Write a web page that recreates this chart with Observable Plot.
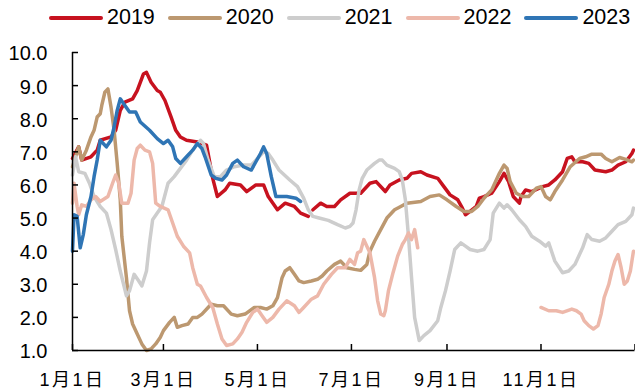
<!DOCTYPE html>
<html>
<head>
<meta charset="utf-8">
<script src="https://cdn.jsdelivr.net/npm/d3@7"></script>
<script src="https://cdn.jsdelivr.net/npm/@observablehq/plot@0.6"></script>
<style>
  html, body { margin: 0; padding: 0; background: #fff; }
  body { width: 635px; height: 392px; overflow: hidden; font-family: "Liberation Sans", Arial, "Noto Sans CJK SC", sans-serif; }
  #legend { height: 34px; box-sizing: border-box; padding: 2px 0 0 49px; display: flex; align-items: center; gap: 13px; }
  .item { display: flex; align-items: center; font-size: 21.5px; color: #000; line-height: 1; }
  .swatch { width: 54px; height: 4px; border-radius: 2px; margin-right: 4px; }
  #chart svg { display: block; }
  #chart g[aria-label="x-axis tick label"] text { letter-spacing: 2.5px; }
</style>
</head>
<body>
<div id="legend"></div>
<div id="chart"></div>
<script>
// Series, one per year: [month-day, value]; null marks a break in the line
const years = ["2019", "2020", "2021", "2022", "2023"];
const colors = ["#C7121F", "#BC9870", "#CDCDCD", "#EDB8AA", "#2F75B5"];

const s2019 = [
  ["01-01",6.8],["01-05",7.15],["01-07",6.75],["01-13",6.85],["01-17",7.05],["01-19",7.35],["01-26",7.45],["01-29",7.65],
  ["02-01",8.25],["02-04",8.5],["02-09",8.6],["02-12",8.85],["02-16",9.35],["02-18",9.4],["02-21",9.1],["02-25",8.85],["02-27",8.8],
  ["03-02",8.55],["03-06",8.05],["03-09",7.65],["03-12",7.45],["03-16",7.35],["03-23",7.3],["03-29",7.2],
  ["04-02",6.2],["04-05",5.65],["04-10",5.85],["04-13",6.05],["04-20",6.0],["04-24",5.8],["04-30",6.0],
  ["05-05",6.0],["05-08",5.65],["05-14",5.25],["05-19",5.45],["05-25",5.35],["05-29",5.15],
  ["06-03",5.05],["06-04",null],["06-06",5.25],["06-11",5.45],["06-15",5.35],["06-20",5.35],["06-24",5.55],["06-30",5.75],
  ["07-07",5.75],["07-13",6.05],["07-17",6.1],["07-23",5.8],["07-26",6.0],
  ["08-01",6.15],["08-06",6.2],["08-09",6.35],["08-15",6.4],["08-19",6.3],["08-26",6.2],["08-30",5.95],
  ["09-03",5.7],["09-08",5.55],["09-11",5.3],["09-13",5.1],["09-16",5.2],["09-20",5.35],["09-22",5.6],["09-25",5.65],["09-30",5.75],
  ["10-05",6.1],["10-08",6.35],["10-11",6.1],["10-14",5.65],["10-18",5.45],["10-19",5.65],["10-22",5.85],["10-26",5.8],
  ["11-02",5.95],["11-06",6.0],["11-10",6.15],["11-15",6.4],["11-18",6.8],["11-21",6.85],["11-23",6.7],["11-28",6.7],
  ["12-02",6.65],["12-06",6.45],["12-13",6.4],["12-17",6.45],["12-21",6.6],["12-26",6.7],["12-30",6.95],["12-31",7.05]
];

const s2020 = [
  ["01-01",6.55],["01-03",6.85],["01-05",7.15],["01-07",6.75],["01-10",7.05],["01-13",7.45],["01-15",7.65],["01-17",8.05],
  ["01-19",8.15],["01-20",8.4],["01-22",8.8],["01-24",8.9],["01-26",8.35],["01-28",7.65],["01-30",6.65],
  ["02-01",5.55],["02-02",4.45],["02-05",3.2],["02-07",2.2],["02-09",1.8],["02-12",1.5],["02-15",1.2],["02-18",1.0],
  ["02-21",1.05],["02-24",1.2],["02-27",1.4],["03-01",1.6],["03-05",1.85],["03-08",2.0],["03-10",1.7],["03-13",1.75],
  ["03-17",1.8],["03-20",2.0],["03-23",2.0],["03-26",2.1],["03-30",2.3],
  ["04-01",2.4],["04-05",2.35],["04-09",2.35],["04-14",2.1],["04-18",2.05],["04-23",2.1],["04-29",2.3],
  ["05-03",2.3],["05-07",2.25],["05-11",2.35],["05-14",2.6],["05-17",3.2],["05-19",3.4],["05-22",3.5],["05-25",3.3],
  ["05-28",3.1],["05-31",3.05],["06-05",3.1],["06-09",3.15],["06-12",3.25],["06-15",3.4],["06-20",3.6],["06-24",3.7],
  ["06-28",3.5],["07-03",3.45],["07-07",3.42],["07-11",3.6],["07-13",4.0],["07-16",4.3],["07-20",4.65],["07-24",5.0],
  ["07-29",5.25],["08-02",5.35],["08-06",5.45],["08-15",5.5],["08-21",5.65],["08-27",5.7],
  ["09-01",5.55],["09-07",5.35],["09-12",5.2],["09-17",5.2],["09-21",5.35],["09-25",5.6],["09-30",5.85],
  ["10-05",6.35],["10-08",6.6],["10-10",6.5],["10-12",6.1],["10-16",5.75],["10-20",5.65],["10-24",5.65],["10-29",5.9],
  ["11-01",5.95],["11-04",5.65],["11-07",5.55],["11-10",5.8],["11-15",6.15],["11-20",6.55],["11-26",6.8],["11-30",6.85],
  ["12-04",6.93],["12-10",6.93],["12-13",6.8],["12-17",6.7],["12-22",6.83],["12-26",6.77],["12-30",6.7],["12-31",6.75]
];

const s2021 = [
  ["01-01",6.3],["01-03",6.85],["01-05",6.4],["01-09",6.35],["01-12",6.05],["01-15",5.65],["01-19",5.35],["01-23",5.15],
  ["01-26",4.65],["01-29",4.05],["02-01",3.4],["02-05",2.65],["02-07",2.8],["02-10",3.3],["02-13",3.1],["02-15",2.95],
  ["02-18",3.4],["02-20",4.25],["02-22",4.95],["02-25",5.15],["02-28",5.35],
  ["03-04",6.05],["03-08",6.25],["03-12",6.5],["03-16",6.75],["03-20",7.05],["03-25",7.35],["03-27",7.25],["03-30",6.75],
  ["04-03",6.25],["04-07",6.25],["04-11",6.45],["04-16",6.55],["04-22",6.6],["04-27",6.6],
  ["05-01",6.8],["05-05",7.0],["05-08",6.95],["05-11",6.75],["05-15",6.45],["05-22",6.15],["05-27",5.95],["05-31",5.6],
  ["06-03",5.25],["06-06",5.05],["06-10",5.0],["06-16",4.93],["06-22",4.8],["06-27",4.7],["06-30",4.75],
  ["07-02",4.85],["07-04",5.25],["07-06",5.85],["07-08",6.2],["07-11",6.45],["07-16",6.65],["07-19",6.75],["07-21",6.75],
  ["07-24",6.6],["07-29",6.5],["08-01",6.4],["08-03",6.15],["08-05",5.55],["08-07",4.45],["08-09",3.2],["08-11",2.0],
  ["08-14",1.3],["08-17",1.45],["08-21",1.6],["08-26",1.9],["08-28",2.3],["08-31",2.8],
  ["09-03",3.4],["09-06",4.05],["09-10",4.25],["09-13",4.15],["09-16",4.05],["09-21",4.0],["09-25",4.05],["09-29",4.35],
  ["10-01",5.15],["10-05",5.45],["10-08",5.3],["10-10",5.4],["10-13",5.25],["10-18",4.95],["10-22",4.75],["10-26",4.45],
  ["10-31",4.3],["11-04",4.15],["11-06",4.25],["11-10",3.7],["11-15",3.35],["11-19",3.4],["11-23",3.6],["11-28",4.1],
  ["12-01",4.5],["12-04",4.35],["12-09",4.3],["12-13",4.4],["12-17",4.6],["12-21",4.8],["12-26",4.9],["12-30",5.1],["12-31",5.3]
];

const s2022 = [
  ["01-01",5.45],["01-02",6.05],["01-04",5.35],["01-05",5.1],["01-07",5.4],["01-10",5.35],["01-13",5.55],["01-16",5.65],
  ["01-19",5.5],["01-24",5.65],["01-27",6.05],["01-29",6.3],["01-31",6.05],
  ["02-02",5.45],["02-06",5.45],["02-08",5.75],["02-10",6.75],["02-12",7.1],["02-14",7.2],["02-17",7.05],["02-20",7.0],
  ["02-22",6.65],["02-24",5.45],["02-27",5.35],
  ["03-04",5.25],["03-07",4.85],["03-10",4.45],["03-14",4.15],["03-18",3.95],["03-20",3.5],["03-23",3.0],["03-25",2.95],["03-29",2.6],
  ["04-02",2.3],["04-05",1.8],["04-08",1.35],["04-11",1.15],["04-15",1.2],["04-18",1.35],["04-21",1.55],["04-24",1.85],["04-28",2.15],
  ["05-01",2.25],["05-04",2.05],["05-07",1.85],["05-11",2.0],["05-15",2.25],["05-20",2.5],["05-25",2.35],["05-28",2.15],["05-31",2.3],
  ["06-05",2.55],["06-09",2.65],["06-13",3.0],["06-18",3.3],["06-22",3.5],["06-27",3.5],["06-30",3.75],
  ["07-03",3.6],["07-05",3.95],["07-07",4.0],["07-09",4.35],["07-11",4.15],["07-13",3.95],["07-16",3.2],["07-18",2.5],
  ["07-20",2.1],["07-22",2.05],["07-23",2.2],["07-25",2.8],["07-28",3.35],["07-31",3.85],
  ["08-03",4.2],["08-05",4.35],["08-07",4.55],["08-09",4.35],["08-11",4.65],["08-13",4.1],
  ["10-01",null],
  ["11-01",2.3],["11-06",2.2],["11-11",2.2],["11-15",2.15],["11-21",2.25],["11-24",2.2],["11-27",2.1],["11-29",1.9],
  ["12-02",1.75],["12-05",1.65],["12-08",1.75],["12-10",2.1],["12-12",2.6],["12-15",3.0],["12-17",3.4],["12-19",3.7],
  ["12-21",3.9],["12-23",3.5],["12-25",3.0],["12-27",3.1],["12-29",3.4],["12-30",3.7],["12-31",4.0]
];

const s2023 = [
  ["01-01",4.0],["01-02",5.1],["01-04",5.05],["01-06",4.1],["01-08",4.5],["01-10",5.1],["01-13",5.65],["01-15",6.25],
  ["01-17",6.75],["01-19",7.35],["01-23",7.15],["01-26",7.35],["01-28",7.75],["01-30",8.25],
  ["02-01",8.6],["02-04",8.4],["02-07",8.2],["02-11",8.2],["02-14",7.9],["02-20",7.65],["02-25",7.4],
  ["03-01",7.25],["03-04",7.35],["03-07",7.15],["03-09",6.8],["03-12",6.65],["03-16",6.85],["03-20",7.05],["03-23",7.25],
  ["03-26",7.1],["03-28",6.85],["04-01",6.3],["04-04",6.2],["04-08",6.15],["04-11",6.3],["04-15",6.65],["04-18",6.75],
  ["04-22",6.55],["04-27",6.45],["04-30",6.7],["05-03",6.95],["05-05",7.15],["05-07",6.95],["05-10",6.25],["05-13",5.65],
  ["05-16",5.65],["05-20",5.65],["05-26",5.6],["05-29",5.5]
];

const series = [s2019, s2020, s2021, s2022, s2023];

// Tick values and labels
const yTicks = [1, 2, 3, 4, 5, 6, 7, 8, 9, 10];
const xTickDays = ["01-01", "03-01", "05-01", "07-01", "09-01", "11-01"];
const xTickLabels = ["1月1日", "3月1日", "5月1日", "7月1日", "9月1日", "11月1日"];

// All years share one calendar axis
const toDate = md => { const [m, d] = md.split("-").map(Number); return new Date(Date.UTC(2019, m - 1, d)); };
const xStart = new Date(Date.UTC(2019, 0, 1));
const xEnd = new Date(Date.UTC(2020, 0, 1));

const rows = series.flatMap((s, i) => s.map(([md, v]) => ({year: years[i], date: toDate(md), value: v})));
const xTicks = xTickDays.map(toDate);
const labelOf = new Map(xTicks.map((d, i) => [+d, xTickLabels[i]]));

// Legend
const legend = document.getElementById("legend");
years.forEach((y, i) => {
  const item = document.createElement("div");
  item.className = "item";
  const sw = document.createElement("span");
  sw.className = "swatch";
  sw.style.background = colors[i];
  item.appendChild(sw);
  item.appendChild(document.createTextNode(y));
  legend.appendChild(item);
});

const width = 635, height = 358;
const margin = {top: 18, right: 0.5, bottom: 42, left: 72};
const frameW = width - margin.left - margin.right;
const frameH = height - margin.top - margin.bottom;
const tickLen = 6;

const chart = Plot.plot({
  width, height,
  marginTop: margin.top, marginRight: margin.right, marginBottom: margin.bottom, marginLeft: margin.left,
  style: {fontFamily: '"Liberation Sans", Arial, "Noto Sans CJK SC", sans-serif', color: "#000", background: "#fff", overflow: "visible"},
  x: {type: "utc", domain: [xStart, xEnd]},
  y: {domain: [1, 10]},
  color: {domain: years, range: colors},
  marks: [
    Plot.line(rows, {x: "date", y: "value", z: "year", stroke: "year", strokeWidth: 3.5, strokeLinejoin: "round", strokeLinecap: "round"}),
    // axis lines
    Plot.ruleX([xStart], {stroke: "#000", strokeWidth: 1.5}),
    Plot.ruleY([1], {stroke: "#000", strokeWidth: 1.5}),
    // inward tick marks
    Plot.tickY(yTicks, {y: d => d, stroke: "#000", strokeWidth: 1.5, insetRight: frameW - tickLen}),
    Plot.tickX([...xTicks, xEnd], {x: d => d, stroke: "#000", strokeWidth: 1.5, insetTop: frameH - tickLen}),
    Plot.axisY(yTicks, {label: null, tickSize: 0, tickPadding: 25, tickFormat: d3.format(".1f"), fontSize: 20, dy: 1.5}),
    Plot.axisX(xTicks, {label: null, tickSize: 0, tickPadding: 23, tickFormat: d => labelOf.get(+d), fontSize: 18})
  ]
});
document.getElementById("chart").appendChild(chart);
</script>
</body>
</html>
